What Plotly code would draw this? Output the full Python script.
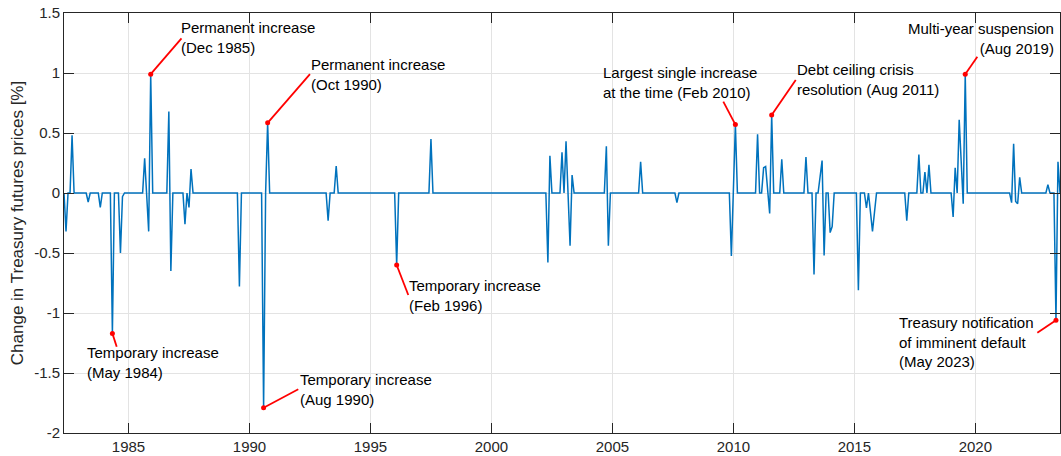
import plotly.graph_objects as go

# ---------------- data ----------------
start_month = "1982-05"
end_month = "2023-07"

event_months = [
    "1982-06", "1982-09", "1983-05", "1983-11", "1984-05", "1984-09", "1984-10",
    "1985-09", "1985-11", "1985-12", "1986-09", "1986-10", "1987-05", "1987-07",
    "1987-08", "1989-08", "1990-08", "1990-10", "1993-04", "1993-08", "1996-02",
    "1997-07", "2002-05", "2002-06", "2002-12", "2003-02", "2003-04", "2003-05",
    "2004-10", "2004-11", "2006-03", "2007-09", "2009-12", "2010-02", "2011-01",
    "2011-04", "2011-05", "2011-07", "2011-08", "2012-01", "2013-01", "2013-05",
    "2013-08", "2013-09", "2013-10", "2014-01", "2014-02", "2015-03", "2015-07",
    "2015-09", "2015-10", "2015-11", "2017-03", "2017-09", "2017-12", "2018-02",
    "2019-02", "2019-03", "2019-05", "2019-06", "2019-07", "2019-08", "2021-07",
    "2021-08", "2021-09", "2021-10", "2021-11", "2023-01", "2023-05", "2023-06",
]
event_values = [
    -0.32, 0.48, -0.075, -0.12, -1.17, -0.50, -0.03,
    0.29, -0.32, 0.99, 0.68, -0.65, -0.26, -0.12,
    0.20, -0.78, -1.79, 0.585, -0.23, 0.225, -0.60,
    0.45, -0.58, 0.31, 0.34, 0.43, -0.44, 0.15,
    0.39, -0.44, 0.26, -0.08, -0.525, 0.57, 0.49,
    0.21, 0.22, -0.17, 0.65, 0.28, 0.30, -0.68,
    0.13, 0.27, -0.52, -0.33, -0.28, -0.81, -0.125,
    -0.16, -0.32, -0.16, -0.23, 0.32, 0.175, 0.235,
    -0.20, 0.21, 0.61, 0.26, -0.09, 0.99, -0.08,
    0.41, -0.07, -0.09, 0.13, 0.07, -1.06, 0.26,
]

# annotated events
annot_months = ["1984-05", "1985-12", "1990-08", "1990-10", "1996-02",
                "2010-02", "2011-08", "2019-08", "2023-05"]
annot_texts = [
    "Temporary increase<br>(May 1984)",
    "Permanent increase<br>(Dec 1985)",
    "Temporary increase<br>(Aug 1990)",
    "Permanent increase<br>(Oct 1990)",
    "Temporary increase<br>(Feb 1996)",
    "Largest single increase<br>at the time (Feb 2010)",
    "Debt ceiling crisis<br>resolution (Aug 2011)",
    "Multi-year suspension<br>(Aug 2019)",
    "Treasury notification<br>of imminent default<br>(May 2023)",
]

y_tickvals = [1.5, 1, 0.5, 0, -0.5, -1, -1.5, -2]
y_ticktext = ["1.5", "1", "0.5", "0", "-0.5", "-1", "-1.5", "-2"]
x_tickvals = [1985, 1990, 1995, 2000, 2005, 2010, 2015, 2020]
x_ticktext = ["1985", "1990", "1995", "2000", "2005", "2010", "2015", "2020"]

# ---------------- layout of the annotations (positions / styles) ----------------
# text anchor (x, y), xanchor, arrow tail (x, y)
annot_layout = [
    (1983.284, -1.411, "left", 1984.511, -1.281),
    (1987.169, 1.296, "left", 1987.19, 1.288),
    (1992.108, -1.6375, "left", 1992.017, -1.636),
    (1992.53, 0.9875, "left", 1992.50, 0.99),
    (1996.605, -0.854, "left", 1996.564, -0.85),
    (2004.599, 0.918, "left", 2009.584, 0.761),
    (2012.618, 0.942, "left", 2012.577, 0.942),
    (2023.252, 1.285, "right", 2020.083, 1.136),
    (2016.846, -1.24, "left", 2022.563, -1.164),
]


def ym_to_year(s):
    y, m = s.split("-")
    return int(y) + (int(m) - 1) / 12.0


def month_range(a, b):
    ya, ma = map(int, a.split("-"))
    yb, mb = map(int, b.split("-"))
    out = []
    y, m = ya, ma
    while (y, m) <= (yb, mb):
        out.append(f"{y:04d}-{m:02d}")
        m += 1
        if m > 12:
            m = 1
            y += 1
    return out


months = month_range(start_month, end_month)
event_map = dict(zip(event_months, event_values))
x_vals = [ym_to_year(m) for m in months]
y_vals = [event_map.get(m, 0.0) for m in months]

FONT = "Liberation Sans, Arial, Helvetica, sans-serif"
AX = "#262626"

fig = go.Figure()
fig.add_trace(go.Scatter(x=x_vals, y=y_vals, mode="lines",
                         line=dict(color="#0072BD", width=1.5),
                         hoverinfo="skip", showlegend=False))

ax_x = [ym_to_year(m) for m in annot_months]
ax_y = [event_map[m] for m in annot_months]

shapes = []
annotations = []
for (tx, ty, xa, tlx, tly), hx, hy, txt in zip(annot_layout, ax_x, ax_y, annot_texts):
    shapes.append(dict(type="line", xref="x", yref="y", x0=tlx, y0=tly, x1=hx, y1=hy,
                       line=dict(color="#FF0000", width=1.8), layer="above"))
    annotations.append(dict(x=tx, y=ty, xref="x", yref="y", text=txt, showarrow=False,
                            xanchor=xa, yanchor="middle", align=xa,
                            font=dict(family=FONT, size=15, color="#000000"),
                            borderpad=0, borderwidth=0))

fig.add_trace(go.Scatter(x=ax_x, y=ax_y, mode="markers",
                         marker=dict(color="#FF0000", size=5),
                         hoverinfo="skip", showlegend=False))

fig.update_layout(
    width=1061, height=456,
    margin=dict(l=64, r=1, t=13, b=23, pad=0),
    paper_bgcolor="white", plot_bgcolor="white",
    font=dict(family=FONT, size=15, color=AX),
    shapes=shapes, annotations=annotations,
    showlegend=False,
)
fig.update_xaxes(range=[ym_to_year(start_month), ym_to_year(end_month)],
                 tickvals=x_tickvals, ticktext=x_ticktext,
                 showgrid=True, gridcolor="#E3E3E3", gridwidth=1,
                 showline=True, linecolor=AX, linewidth=1, mirror="allticks",
                 ticks="inside", ticklen=10, tickcolor=AX, tickwidth=1,
                 zeroline=False, automargin=False,
                 tickfont=dict(family=FONT, size=15, color=AX))
fig.update_yaxes(range=[-2, 1.5],
                 tickvals=y_tickvals, ticktext=y_ticktext,
                 showgrid=True, gridcolor="#E3E3E3", gridwidth=1,
                 showline=True, linecolor=AX, linewidth=1, mirror="allticks",
                 ticks="inside", ticklen=10, tickcolor=AX, tickwidth=1,
                 zeroline=False, automargin=False,
                 tickfont=dict(family=FONT, size=15, color=AX),
                 title=dict(text="Change in Treasury futures prices [%]",
                            font=dict(family=FONT, size=17, color=AX), standoff=6))

fig.write_html("out.html")
